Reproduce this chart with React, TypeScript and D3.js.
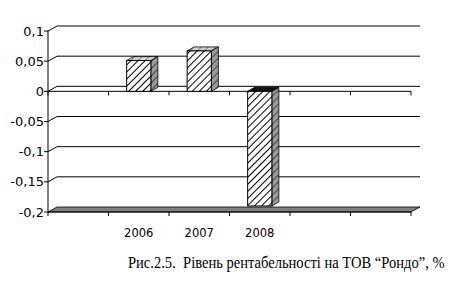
import React from "react";
import * as d3 from "d3";

const categories = ["", "2006", "2007", "2008", " ", "  "];
const values: (number | null)[] = [null, 0.051, 0.067, -0.19, null, null];
const yTicks = [0.1, 0.05, 0, -0.05, -0.1, -0.15, -0.2];
const yTickLabels = ["0,1", "0,05", "0", "-0,05", "-0,1", "-0,15", "-0,2"];
const caption = "Рис.2.5.\u00a0\u00a0Рівень рентабельності на ТОВ “Рондо”, %";

const W = 471;
const H = 282;
const left = 48;
const right = 411;
const top = 31;
const bottom = 212;
const wallDx = 9;
const wallDy = -5;
const barDx = 7;
const barDy = -4;

export default function App() {
  const y = d3.scaleLinear().domain([-0.2, 0.1]).range([bottom, top]);
  const x = d3
    .scaleBand<string>()
    .domain(categories)
    .range([left, right])
    .paddingInner(0.6)
    .paddingOuter(0.3);
  const step = x.step();
  const bw = x.bandwidth();
  const boundaries = categories.map((c) => (x(c) as number) - (step * 0.6) / 2);
  boundaries.push(right);

  const y0 = y(0);
  const sans = "'DejaVu Sans', 'Liberation Sans', sans-serif";
  const serif = "'Liberation Serif', 'Times New Roman', serif";

  return (
    <svg
      width={W}
      height={H}
      style={{ position: "absolute", left: 0, top: 0, background: "#fff" }}
    >
      <defs>
        <pattern id="hFront" width="5" height="5" patternUnits="userSpaceOnUse" patternTransform="rotate(45)">
          <rect width="5" height="5" fill="#fff" />
          <line x1="0" y1="0" x2="0" y2="5" stroke="#000" strokeWidth="2" />
        </pattern>
        <pattern id="hSide" width="5" height="5" patternUnits="userSpaceOnUse" patternTransform="rotate(45)">
          <rect width="5" height="5" fill="#9a9a9a" />
          <line x1="0" y1="0" x2="0" y2="5" stroke="#333" strokeWidth="1.6" />
        </pattern>
        <pattern id="hTop" width="5" height="5" patternUnits="userSpaceOnUse" patternTransform="rotate(45)">
          <rect width="5" height="5" fill="#d0d0d0" />
          <line x1="0" y1="0" x2="0" y2="5" stroke="#777" strokeWidth="1.6" />
        </pattern>
      </defs>

      {/* back wall gridlines */}
      {yTicks.slice(0, yTicks.length - 1).map((t, i) => (
        <polyline
          key={"g" + i}
          points={`${left},${y(t)} ${left + wallDx},${y(t) + wallDy} ${right + wallDx},${y(t) + wallDy}`}
          fill="none"
          stroke="#000"
          strokeWidth={1}
        />
      ))}

      {/* floor */}
      <polygon
        points={`${left},${bottom} ${right},${bottom} ${right + wallDx},${bottom + wallDy} ${left + wallDx},${bottom + wallDy}`}
        fill="#808080"
        stroke="#000"
        strokeWidth={0.8}
      />
      <line x1={left} x2={right} y1={bottom} y2={bottom} stroke="#000" strokeWidth={1.2} />

      {/* zero front line */}
      <line x1={left} x2={right} y1={y0} y2={y0} stroke="#000" strokeWidth={1} />
      {boundaries.map((b, i) => (
        <g key={"t" + i}>
          <line x1={b} x2={b} y1={y0} y2={y0 + 4} stroke="#000" />
          <line x1={b} x2={b} y1={bottom} y2={bottom + 4} stroke="#000" />
        </g>
      ))}

      {/* bars */}
      {categories.map((c, i) => {
        const v = values[i];
        if (v === null) return null;
        const x0 = x(c) as number;
        const x1 = x0 + bw;
        const yt = y(Math.max(v, 0));
        const yb = y(Math.min(v, 0));
        const topFill = v < 0 ? "#111" : "url(#hTop)";
        return (
          <g key={"b" + i}>
            <polygon
              points={`${x1},${yt} ${x1 + barDx},${yt + barDy} ${x1 + barDx},${yb + barDy} ${x1},${yb}`}
              fill="url(#hSide)"
              stroke="#000"
              strokeWidth={0.8}
            />
            <polygon
              points={`${x0},${yt} ${x0 + barDx},${yt + barDy} ${x1 + barDx},${yt + barDy} ${x1},${yt}`}
              fill={topFill}
              stroke="#000"
              strokeWidth={0.8}
            />
            <rect x={x0} y={yt} width={bw} height={yb - yt} fill="url(#hFront)" stroke="#000" strokeWidth={1} />
          </g>
        );
      })}

      {/* y axis */}
      <line x1={left} x2={left} y1={top} y2={bottom} stroke="#000" strokeWidth={1} />
      {yTicks.map((t, i) => (
        <g key={"y" + i}>
          <line x1={left - 4} x2={left} y1={y(t)} y2={y(t)} stroke="#000" />
          <text x={44} y={y(t) + 4.5} textAnchor="end" style={{ fontFamily: sans, fontSize: "13px" }} fill="#000">
            {yTickLabels[i]}
          </text>
        </g>
      ))}

      {/* category labels */}
      {categories.map((c, i) =>
        c.trim() ? (
          <text
            key={"c" + i}
            x={(x(c) as number) + bw / 2}
            y={237}
            textAnchor="middle"
            style={{ fontFamily: sans, fontSize: "11.5px" }}
            fill="#000"
          >
            {c}
          </text>
        ) : null
      )}

      <text
        transform="translate(128,268) scale(0.91,1)"
        style={{ fontFamily: serif, fontSize: "16px" }}
        fill="#000"
      >
        {caption}
      </text>
    </svg>
  );
}
